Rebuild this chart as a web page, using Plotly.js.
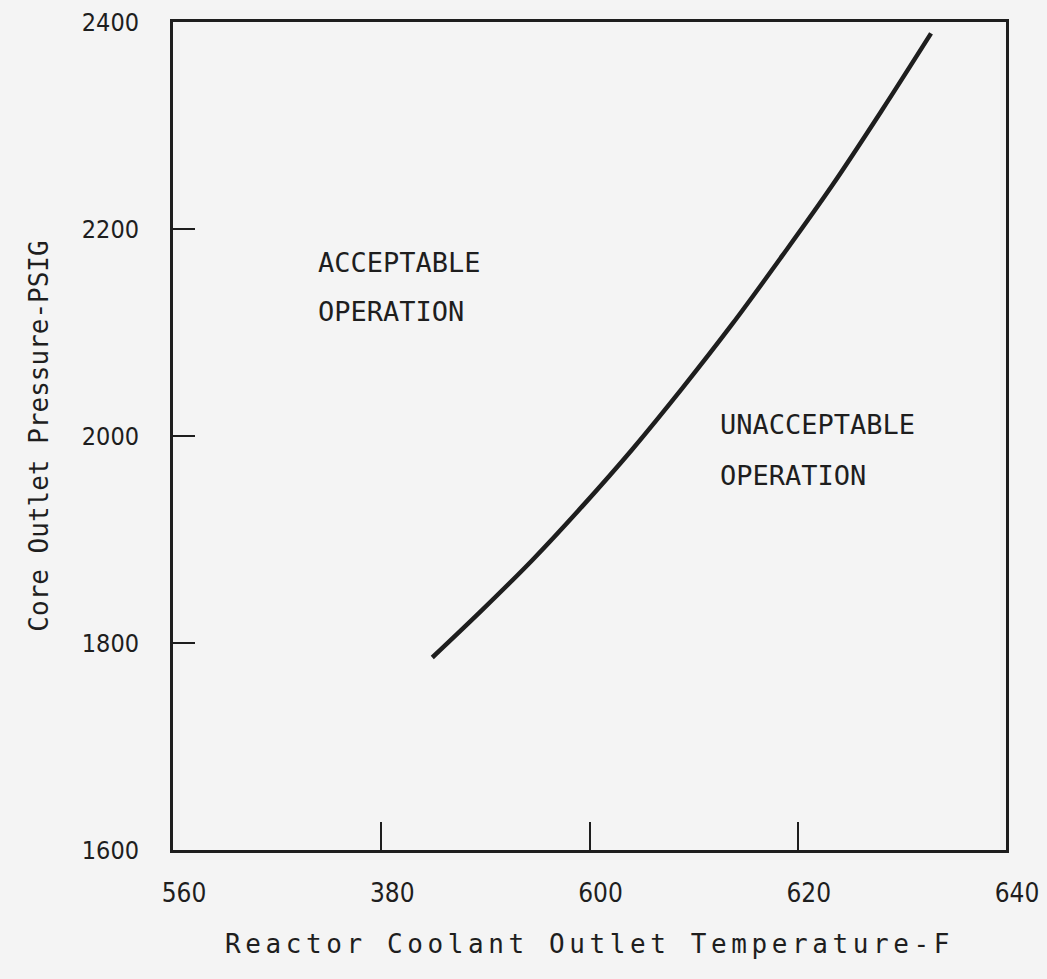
<!DOCTYPE html>
<html>
<head>
<meta charset="utf-8">
<script src="https://cdn.plot.ly/plotly-3.0.1.min.js"></script>
<style>
  html, body { margin: 0; padding: 0; background: #f4f4f4; }
  #chart { width: 1047px; height: 979px; }
  .g-xtitle text { letter-spacing: 4.6px; }
</style>
</head>
<body>
<div id="chart"></div>
<script>
// Limiting curve: reactor coolant outlet temperature (F) vs core outlet pressure (psig)
var temperatureF = [584.9, 589.7, 594.5, 599.3, 604.1, 608.9, 613.7, 618.5, 623.3, 628.1, 632.8];
var pressurePsig = [1786, 1832, 1880, 1932, 1987, 2046, 2108, 2174, 2242, 2315, 2389];

// Axis ticks
var xTickVals = [560, 580, 600, 620, 640];
var xTickText = ['560', '380', '600', '620', '640'];
var yTickVals = [1600, 1800, 2000, 2200, 2400];
var yTickText = ['1600', '1800', '2000', '2200', '2400'];

// Region labels
var regionLabels = [
  {x: 573.7, y: 2168, text: 'ACCEPTABLE'},
  {x: 573.7, y: 2120, text: 'OPERATION'},
  {x: 612.3, y: 2011, text: 'UNACCEPTABLE'},
  {x: 612.3, y: 1962, text: 'OPERATION'}
];

var ink = '#1e1e1e';
var monoFont = 'DejaVu Sans Mono, Liberation Mono, monospace';
var narrowFont = 'DejaVu Sans Condensed, DejaVu Sans, sans-serif';

var trace = {
  x: temperatureF,
  y: pressurePsig,
  type: 'scatter',
  mode: 'lines',
  line: {color: ink, width: 4.5, shape: 'spline', smoothing: 1},
  hoverinfo: 'x+y',
  showlegend: false
};

var layout = {
  width: 1047,
  height: 979,
  margin: {l: 173, r: 41, t: 22, b: 129},
  paper_bgcolor: '#f4f4f4',
  plot_bgcolor: '#f4f4f4',
  showlegend: false,
  xaxis: {
    range: [560, 640],
    tickmode: 'array',
    tickvals: xTickVals,
    ticktext: xTickText,
    ticks: 'inside',
    ticklen: 28,
    tickwidth: 2,
    tickcolor: ink,
    showline: true,
    linewidth: 3,
    linecolor: ink,
    mirror: true,
    showgrid: false,
    zeroline: false,
    ticklabelstandoff: 18,
    ticklabelshift: 11,
    tickfont: {family: narrowFont, size: 26, color: ink},
    title: {
      text: 'Reactor Coolant Outlet Temperature-F',
      font: {family: monoFont, size: 26, color: ink},
      standoff: 28
    }
  },
  yaxis: {
    range: [1600, 2400],
    tickmode: 'array',
    tickvals: yTickVals,
    ticktext: yTickText,
    ticks: 'inside',
    ticklen: 22,
    tickwidth: 2,
    tickcolor: ink,
    showline: true,
    linewidth: 3,
    linecolor: ink,
    mirror: true,
    showgrid: false,
    zeroline: false,
    ticklabelstandoff: 26,
    tickfont: {family: narrowFont, size: 25, color: ink},
    title: {
      text: 'Core Outlet Pressure-PSIG',
      font: {family: monoFont, size: 26, color: ink},
      standoff: 26
    }
  },
  annotations: regionLabels.map(function (r) {
    return {
      x: r.x, y: r.y, xref: 'x', yref: 'y',
      text: r.text, showarrow: false,
      xanchor: 'left', yanchor: 'middle',
      font: {family: monoFont, size: 27, color: ink}
    };
  })
};

Plotly.newPlot('chart', [trace], layout, {displayModeBar: false, staticPlot: true});
</script>
</body>
</html>
